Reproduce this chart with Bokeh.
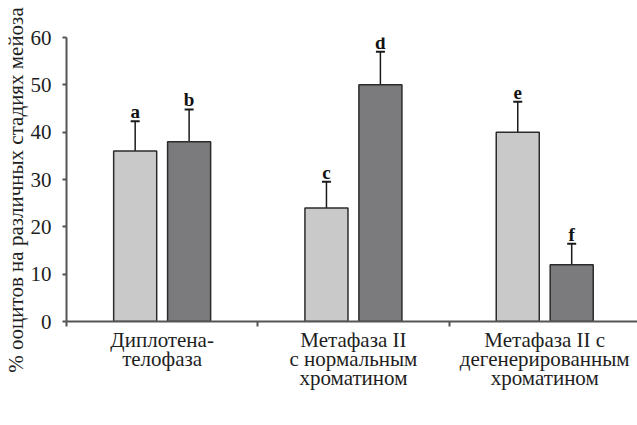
from bokeh.plotting import figure
from bokeh.models import (Range1d, FixedTicker, Whisker, TeeHead, ColumnDataSource,
                          Legend, LegendItem, LinearAxis, LabelSet)
from bokeh.embed import file_html
from bokeh.resources import INLINE

categories = ["Диплотена-\nтелофаза", "Метафаза II\nс нормальным\nхроматином",
              "Метафаза II с\nдегенерированным\nхроматином"]
plus_vals = [36, 24, 40]
plus_err = [6.3, 5.5, 6.4]
minus_vals = [38, 50, 12]
minus_err = [6.8, 7.0, 4.4]
plus_letters = ["a", "c", "e"]
minus_letters = ["b", "d", "f"]
series_names = ["BCB\u207aооциты", "BCB\u207bооциты"]
y_ticks = [0, 10, 20, 30, 40, 50, 60]
y_title = "% ооцитов на различных стадиях мейоза"

FONT = "Liberation Serif"
LIGHT = "#c9c9c9"
DARK = "#7b7b7d"
EDGE = "#2b2b2b"
AX = "#555555"
TXT = "#1e1e1e"

p = figure(frame_width=571, frame_height=284, output_backend="svg", toolbar_location=None,
           x_range=Range1d(0, 2.985), y_range=Range1d(0, 60),
           min_border_left=66, min_border_top=37, min_border_right=0, min_border_bottom=0,
           x_axis_type=None)
p.outline_line_color = None
p.xgrid.visible = False
p.ygrid.visible = False

centers = [i + 0.5 for i in range(len(categories))]
off = 0.141
w = 0.225
xp = [c - off for c in centers]
xm = [c + off for c in centers]

src_p = ColumnDataSource(dict(x=xp, top=plus_vals,
                              up=[v + e for v, e in zip(plus_vals, plus_err)],
                              lo=[v - e for v, e in zip(plus_vals, plus_err)],
                              lab=plus_letters))
src_m = ColumnDataSource(dict(x=xm, top=minus_vals,
                              up=[v + e for v, e in zip(minus_vals, minus_err)],
                              lo=[v - e for v, e in zip(minus_vals, minus_err)],
                              lab=minus_letters))

r1 = p.vbar(x="x", top="top", width=w, source=src_p, fill_color=LIGHT,
            line_color=EDGE, line_width=1.5)
r2 = p.vbar(x="x", top="top", width=w, source=src_m, fill_color=DARK,
            line_color=EDGE, line_width=1.5)

for src in (src_p, src_m):
    wk = Whisker(base="x", upper="up", lower="lo", source=src,
                 line_color="#1a1a1a", line_width=1.5,
                 upper_head=TeeHead(size=9, line_color="#1a1a1a", line_width=2),
                 lower_head=TeeHead(size=9, line_color="#1a1a1a", line_width=2))
    p.add_layout(wk)
    ls = LabelSet(x="x", y="up", text="lab", source=src, text_font=FONT,
                  text_font_size="19px", text_font_style="bold", text_align="center",
                  text_baseline="alphabetic", y_offset=3, text_color="#111111")
    p.add_layout(ls)

# y axis
yax = p.yaxis[0]
yax.ticker = FixedTicker(ticks=y_ticks, minor_ticks=[])
yax.axis_label = y_title + "    "
yax.axis_label_text_font = FONT
yax.axis_label_text_font_style = "normal"
yax.axis_label_text_font_size = "21px"
yax.axis_label_text_color = TXT
yax.axis_label_standoff = 0
yax.major_label_text_font = FONT
yax.major_label_text_font_size = "21px"
yax.major_label_text_color = TXT
yax.major_label_standoff = 11
yax.major_tick_in = 0
yax.major_tick_out = 4
yax.axis_line_color = AX
yax.axis_line_width = 2
yax.major_tick_line_color = AX
yax.major_tick_line_width = 2

# x axis: category labels at centres, boundary ticks as minor ticks
xax = LinearAxis(ticker=FixedTicker(ticks=centers, minor_ticks=[0, 1, 2, 3]),
                 major_label_overrides={c: lab for c, lab in zip(centers, categories)})
xax.major_tick_out = 0
xax.major_tick_in = 0
xax.minor_tick_out = 5
xax.minor_tick_in = 0
xax.minor_tick_line_color = AX
xax.minor_tick_line_width = 2
xax.axis_line_color = AX
xax.axis_line_width = 2
xax.major_label_text_font = FONT
xax.major_label_text_font_size = "21px"
xax.major_label_text_color = TXT
xax.major_label_text_line_height = 0.80
xax.major_label_standoff = 1
p.add_layout(xax, "below")

legend = Legend(items=[LegendItem(label=series_names[0], renderers=[r1]),
                       LegendItem(label=series_names[1] + "     ", renderers=[r2])],
                orientation="horizontal", location="center",
                label_text_font=FONT, label_text_font_size="22px",
                label_text_color=TXT,
                glyph_width=20, glyph_height=20, spacing=37, label_standoff=4,
                border_line_color=None, background_fill_alpha=0,
                padding=0, margin=2)
p.add_layout(legend, "below")

open("out.html", "w").write(file_html(p, INLINE))
